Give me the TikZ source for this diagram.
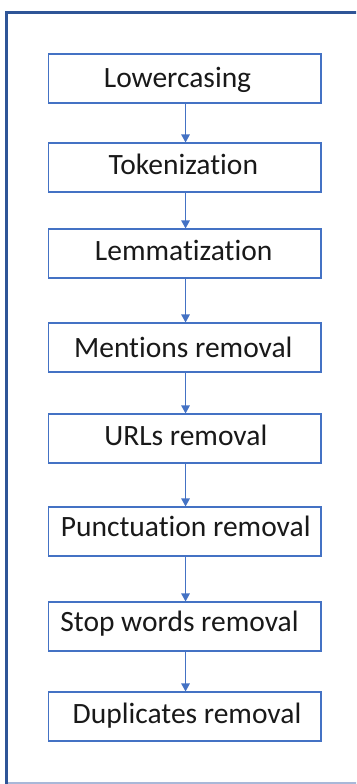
\documentclass[tikz,border=0pt]{standalone}
\usepackage{fontspec}
\setmainfont{Carlito}[Ligatures={NoCommon,NoContextual,NoRequired}, Contextuals={NoAlternate}]
\usetikzlibrary{arrows.meta}
\definecolor{framecol}{HTML}{2F5597}
\definecolor{boxcol}{HTML}{4472C4}
\definecolor{edgecol}{HTML}{A9B8D8}
\tikzset{
  stepbox/.style={draw=boxcol, line width=1.1pt, fill=white, minimum width=272.5pt,
    minimum height=49pt, inner sep=0pt},
  steptext/.style={anchor=base, inner sep=0pt, font=\fontsize{29.5}{34}\selectfont, text=black!90},
  flow/.style={draw=boxcol, line width=1.2pt, -{Triangle[width=8.5pt,length=8pt]}}
}
\begin{document}
\begin{tikzpicture}[x=1pt,y=-1pt]
  \useasboundingbox (0,0) rectangle (356,784);
  \begin{scope}
    \clip (0,0) rectangle (356,784);
    % outer frame (left and top edges, light bottom edge)
    \draw[edgecol, line width=1.5pt] (8,782.8) -- (360,782.8);
    \draw[framecol, line width=3.6pt] (6.3,790) -- (6.3,12.5) -- (362,12.5);
  \end{scope}

  % processing steps
  \node[stepbox] (b1) at (184.75,78.5) {};
  \node[stepbox] (b2) at (184.75,167.5) {};
  \node[stepbox] (b3) at (184.75,253.5) {};
  \node[stepbox] (b4) at (184.75,347.5) {};
  \node[stepbox] (b5) at (184.75,438.5) {};
  \node[stepbox] (b6) at (184.75,531.5) {};
  \node[stepbox] (b7) at (184.75,626.5) {};
  \node[stepbox] (b8) at (184.75,716.5) {};

  \node[steptext] (t1) at (177.5,87.3)  {Lowercasing};
  \node[steptext] (t2) at (183.3,174.3) {Tokenization};
  \node[steptext] (t3) at (183.7,260.7) {Lemmatization};
  \node[steptext] (t4) at (183.3,357.3) {Mentions removal};
  \node[steptext] (t5) at (185.8,445.0) {URLs removal};
  \node[steptext] (t6) at (185.7,536.7) {Punctuation removal};
  \node[steptext] (t7) at (179.5,631.7) {Stop words removal};
  \node[steptext] (t8) at (187.0,723.3) {Duplicates removal};

  % connectors
  \foreach \a/\b in {b1/b2,b2/b3,b3/b4,b4/b5,b5/b6,b6/b7,b7/b8}
    \draw[flow] ([xshift=0.8pt]\a.south) -- ([xshift=0.8pt]\b.north);
\end{tikzpicture}
\end{document}
